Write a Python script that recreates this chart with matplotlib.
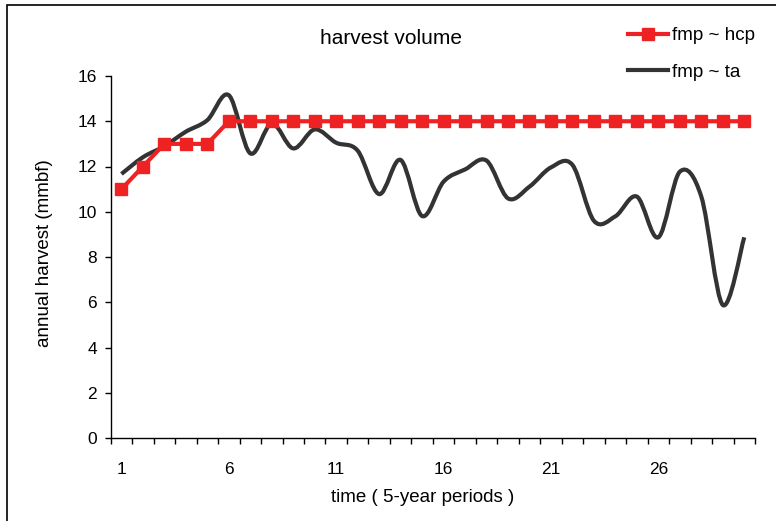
import matplotlib
matplotlib.use("Agg")
import matplotlib.pyplot as plt
from matplotlib.path import Path
from matplotlib.patches import PathPatch, Rectangle
from matplotlib.lines import Line2D
import numpy as np

plt.rcParams['font.family'] = ['Liberation Sans', 'DejaVu Sans']

periods = list(range(1, 31))
hcp = [11, 12, 13, 13, 13, 14, 14, 14, 14, 14, 14, 14, 14, 14, 14,
       14, 14, 14, 14, 14, 14, 14, 14, 14, 14, 14, 14, 14, 14, 14]
ta = [11.67, 12.41, 12.9, 13.54, 14.05, 15.15, 12.58, 13.9, 12.8, 13.64,
      13.05, 12.7, 10.78, 12.29, 9.81, 11.33, 11.87, 12.26, 10.59, 11.11,
      11.96, 12.07, 9.6, 9.8, 10.67, 8.87, 11.77, 10.67, 5.88, 8.87]
xtick_labels = ['1', '6', '11', '16', '21', '26']
yticks = [0, 2, 4, 6, 8, 10, 12, 14, 16]

title = 'harvest volume'
xlabel = 'time ( 5-year periods )'
ylabel = 'annual harvest (mmbf)'
legend_labels = ['fmp ~ hcp', 'fmp ~ ta']

RED = '#ee2222'
BLACK = '#333333'
FS_TICK = 12.5
FS_LAB = 13.5
FS_TITLE = 15

W, H = 776, 521
fig = plt.figure(figsize=(W / 100, H / 100), dpi=100)
ax = fig.add_axes([110.7 / W, 1 - 438 / H, (755 - 110.7) / W, (438 - 76) / H])

# smoothed (Excel-style Catmull-Rom Bezier) curve for ta
x = np.array(periods, dtype=float)
y = np.array(ta, dtype=float)
px = np.concatenate([[x[0]], x, [x[-1]]])
py = np.concatenate([[y[0]], y, [y[-1]]])
verts = [(x[0], y[0])]
codes = [Path.MOVETO]
for i in range(1, len(x)):
    p0 = np.array([px[i - 1], py[i - 1]])
    p1 = np.array([px[i], py[i]])
    p2 = np.array([px[i + 1], py[i + 1]])
    p3 = np.array([px[i + 2], py[i + 2]])
    c1 = p1 + (p2 - p0) / 6.0
    c2 = p2 - (p3 - p1) / 6.0
    verts += [tuple(c1), tuple(c2), tuple(p2)]
    codes += [Path.CURVE4] * 3
patch = PathPatch(Path(verts, codes), fill=False, edgecolor=BLACK, lw=3,
                  capstyle='butt', joinstyle='round', zorder=2)
ax.add_patch(patch)

ax.plot(periods, hcp, color=RED, lw=3, marker='s', markersize=8,
        markeredgecolor=RED, markerfacecolor=RED, zorder=3, clip_on=False)

ax.set_xlim(0.5, 30.5)
ax.set_ylim(0, 16)

ax.set_xticks(np.arange(0.5, 31, 1.0))
ax.set_xticklabels([])
ax.set_xticks([int(s) for s in xtick_labels], minor=True)
ax.set_xticklabels(xtick_labels, minor=True)
ax.tick_params(axis='x', which='major', direction='out', length=4, width=1, color='black')
ax.tick_params(axis='x', which='minor', length=0, pad=17, labelsize=FS_TICK)

ax.set_yticks(yticks)
ax.set_yticklabels([str(v) for v in yticks])
ax.tick_params(axis='y', direction='out', length=4, width=1, pad=6, labelsize=FS_TICK)

for s in ['top', 'right']:
    ax.spines[s].set_visible(False)
for s in ['left', 'bottom']:
    ax.spines[s].set_color('black')
    ax.spines[s].set_linewidth(1)

fig.text(391 / W, 1 - 39 / H, title, ha='center', va='center', fontsize=FS_TITLE)
fig.text(423 / W, 1 - 497 / H, xlabel, ha='center', va='center', fontsize=FS_LAB)
fig.text(45 / W, 1 - 253 / H, ylabel, ha='center', va='center', rotation=90, fontsize=FS_LAB)

handles = [Line2D([], [], color=RED, lw=3, marker='s', markersize=8),
           Line2D([], [], color=BLACK, lw=3)]
leg = fig.legend(handles, legend_labels, loc='upper left',
                 bbox_to_anchor=(628 / W, 1 - 27 / H), frameon=False,
                 fontsize=FS_LAB, handlelength=2.13, handletextpad=0.2,
                 labelspacing=1.05, borderaxespad=0, borderpad=0, markerscale=1)

fig.add_artist(Rectangle((7 / W, -0.1), 1.2, (1 - 5 / H) + 0.1,
                         transform=fig.transFigure, fill=False,
                         edgecolor='black', lw=1.2))

fig.savefig('out.png', dpi=100)
